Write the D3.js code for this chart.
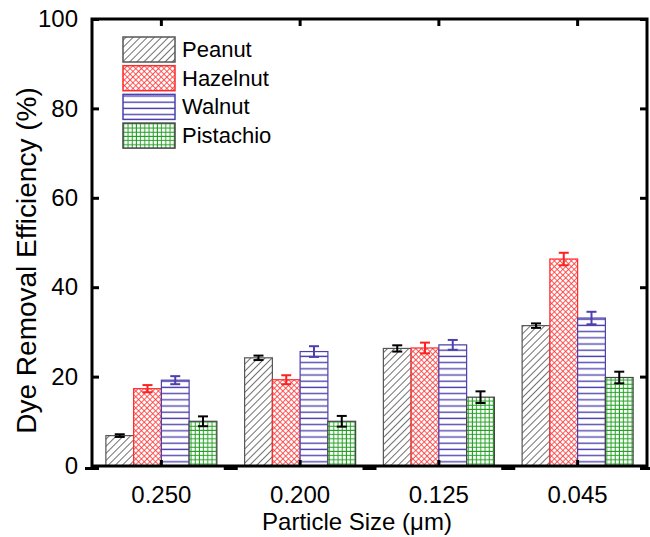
<!DOCTYPE html>
<html><head><meta charset="utf-8">
<script src="https://cdn.jsdelivr.net/npm/d3@7"></script>
<style>body{margin:0;background:#fff}svg{display:block}text{font-family:"Liberation Sans",Arial,sans-serif;fill:#000}</style>
</head><body>
<svg id="chart" width="650" height="537"></svg>
<script>
const categories = ["0.250", "0.200", "0.125", "0.045"];
const seriesNames = ["Peanut", "Hazelnut", "Walnut", "Pistachio"];
const peanut    = [6.8, 24.2, 26.3, 31.4];
const hazelnut  = [17.3, 19.3, 26.4, 46.3];
const walnut    = [19.2, 25.6, 27.1, 33.1];
const pistachio = [10.0, 10.0, 15.4, 19.8];
const peanutErr    = [0.3, 0.5, 0.7, 0.5];
const hazelnutErr  = [0.8, 1.0, 1.2, 1.4];
const walnutErr    = [0.9, 1.2, 1.1, 1.4];
const pistachioErr = [1.1, 1.2, 1.3, 1.3];
const yTicks = [0, 20, 40, 60, 80, 100];

const values = [peanut, hazelnut, walnut, pistachio];
const errors = [peanutErr, hazelnutErr, walnutErr, pistachioErr];
const strokes = ["#555555", "#ff2a2a", "#4b40ad", "#444444"];
const errColors = ["#000000", "#ff2020", "#4b40ad", "#000000"];

const svg = d3.select("#chart");
const L = 92, R = 647, T = 19, B = 466;

// patterns
const defs = svg.append("defs");
let p = defs.append("pattern").attr("id","pat0").attr("patternUnits","userSpaceOnUse")
  .attr("width",5).attr("height",5).attr("patternTransform","rotate(45)");
p.append("rect").attr("width",5).attr("height",5).attr("fill","#fff");
p.append("line").attr("x1",0).attr("y1",0).attr("x2",0).attr("y2",5).attr("stroke","#333").attr("stroke-width",1.4);

p = defs.append("pattern").attr("id","pat1").attr("patternUnits","userSpaceOnUse")
  .attr("width",4).attr("height",4).attr("patternTransform","rotate(45)");
p.append("rect").attr("width",4).attr("height",4).attr("fill","#fff");
p.append("line").attr("x1",0).attr("y1",0).attr("x2",0).attr("y2",4).attr("stroke","#ff3030").attr("stroke-width",1.6);
p.append("line").attr("x1",0).attr("y1",0).attr("x2",4).attr("y2",0).attr("stroke","#ff3030").attr("stroke-width",1.6);

p = defs.append("pattern").attr("id","pat2").attr("patternUnits","userSpaceOnUse")
  .attr("width",6).attr("height",6.2);
p.append("rect").attr("width",6).attr("height",6.2).attr("fill","#fff");
p.append("line").attr("x1",0).attr("y1",3).attr("x2",6).attr("y2",3).attr("stroke","#5045b0").attr("stroke-width",1.4);

p = defs.append("pattern").attr("id","pat3").attr("patternUnits","userSpaceOnUse")
  .attr("width",4.2).attr("height",4.2);
p.append("rect").attr("width",4.2).attr("height",4.2).attr("fill","#fff");
p.append("line").attr("x1",2).attr("y1",0).attr("x2",2).attr("y2",4.2).attr("stroke","#22a022").attr("stroke-width",1);
p.append("line").attr("x1",0).attr("y1",2).attr("x2",4.2).attr("y2",2).attr("stroke","#22a022").attr("stroke-width",1);

const x0 = d3.scaleBand().domain(categories).range([L, R]).paddingInner(0.2).paddingOuter(0.1);
const x1 = d3.scaleBand().domain(seriesNames).range([0, x0.bandwidth()]);
const y = d3.scaleLinear().domain([0, 100]).range([B, T]);

// bars
seriesNames.forEach((s, si) => {
  const g = svg.append("g");
  categories.forEach((c, ci) => {
    const v = values[si][ci];
    g.append("rect")
      .attr("x", x0(c) + x1(s)).attr("y", y(v))
      .attr("width", x1.bandwidth()).attr("height", B - y(v))
      .attr("fill", `url(#pat${si})`).attr("stroke", strokes[si]).attr("stroke-width", 1.2);
  });
});

// error bars
seriesNames.forEach((s, si) => {
  categories.forEach((c, ci) => {
    const v = values[si][ci], e = errors[si][ci];
    const cx = x0(c) + x1(s) + x1.bandwidth() / 2;
    const g = svg.append("g").attr("stroke", errColors[si]).attr("stroke-width", 2);
    g.append("line").attr("x1", cx).attr("x2", cx).attr("y1", y(v + e)).attr("y2", y(v - e));
    g.append("line").attr("x1", cx - 5).attr("x2", cx + 5).attr("y1", y(v + e)).attr("y2", y(v + e));
    g.append("line").attr("x1", cx - 5).attr("x2", cx + 5).attr("y1", y(v - e)).attr("y2", y(v - e));
  });
});

// frame
svg.append("rect").attr("x", L).attr("y", T).attr("width", R - L).attr("height", B - T)
  .attr("fill", "none").attr("stroke", "#000").attr("stroke-width", 3);

// y axis
const yAxis = d3.axisLeft(y).tickValues(yTicks).tickSize(-7).tickPadding(14).tickFormat(d3.format("d"));
const ya = svg.append("g").attr("transform", `translate(${L},0)`).call(yAxis);
ya.select(".domain").remove();
ya.selectAll(".tick line").attr("stroke", "#000").attr("stroke-width", 3);
ya.selectAll(".tick text").attr("font-size", 24).attr("font-family", "Liberation Sans, Arial, sans-serif");

const yAxisR = d3.axisRight(y).tickValues(yTicks).tickSize(-7).tickFormat("");
const yr = svg.append("g").attr("transform", `translate(${R},0)`).call(yAxisR);
yr.select(".domain").remove();
yr.selectAll(".tick line").attr("stroke", "#000").attr("stroke-width", 3);

// x axis
const xAxis = d3.axisBottom(x0).tickSize(-6).tickPadding(20);
const xa = svg.append("g").attr("transform", `translate(0,${B})`).call(xAxis);
xa.select(".domain").remove();
xa.selectAll(".tick line").attr("stroke", "#000").attr("stroke-width", 3);
xa.selectAll(".tick text").attr("font-size", 24).attr("font-family", "Liberation Sans, Arial, sans-serif");

const xAxisT = d3.axisTop(x0).tickSize(-7).tickFormat("");
const xt = svg.append("g").attr("transform", `translate(0,${T})`).call(xAxisT);
xt.select(".domain").remove();
xt.selectAll(".tick line").attr("stroke", "#000").attr("stroke-width", 3);

// boundary stubs on bottom axis
const bounds = d3.range(categories.length + 1).map(i => L + i * x0.step());
svg.append("g").selectAll("rect").data(bounds).join("rect")
  .attr("x", d => d - 7).attr("y", B + 1).attr("width", 14).attr("height", 3).attr("fill", "#000");

// axis titles
svg.append("text").attr("x", 357).attr("y", 530).attr("text-anchor", "middle")
  .attr("font-size", 24).text("Particle Size (μm)");
svg.append("text").attr("transform", `translate(36,${(T + B) / 2 + 18}) rotate(-90)`)
  .attr("text-anchor", "middle").attr("font-size", 28).text("Dye Removal Efficiency (%)");

// legend
const lg = svg.append("g");
seriesNames.forEach((s, si) => {
  const yy = 37 + si * 28.7;
  lg.append("rect").attr("x", 123).attr("y", yy).attr("width", 52).attr("height", 25)
    .attr("fill", `url(#pat${si})`).attr("stroke", strokes[si]).attr("stroke-width", 1.5);
  lg.append("text").attr("x", 182).attr("y", yy + 20).attr("font-size", 22).text(s);
});
</script>
</body></html>
